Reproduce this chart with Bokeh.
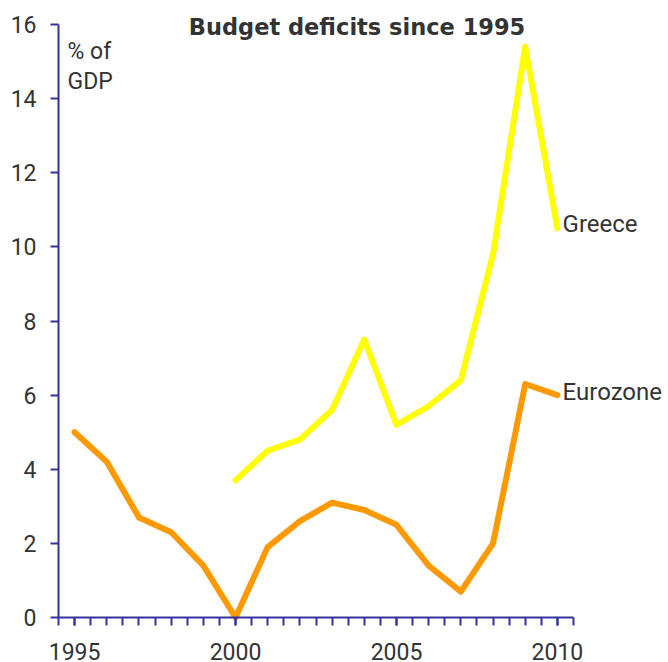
import numpy as np
from bokeh.plotting import figure
from bokeh.models import Range1d, LinearAxis, FixedTicker, ColumnDataSource
from bokeh.core.properties import value
from bokeh.embed import file_html
from bokeh.resources import INLINE

# ---- data ----
euro_years = [1995, 1996, 1997, 1998, 1999, 2000, 2001, 2002, 2003, 2004,
              2005, 2006, 2007, 2008, 2009, 2010]
eurozone = [5.0, 4.2, 2.7, 2.3, 1.4, 0.0, 1.9, 2.6, 3.1, 2.9,
            2.5, 1.4, 0.7, 2.0, 6.3, 6.0]
greece_years = [2000, 2001, 2002, 2003, 2004, 2005, 2006, 2007, 2008, 2009, 2010]
greece = [3.7, 4.5, 4.8, 5.6, 7.5, 5.2, 5.7, 6.4, 9.8, 15.4, 10.5]
x_tick_labels = [1995, 2000, 2005, 2010]
y_tick_values = [0, 2, 4, 6, 8, 10, 12, 14, 16]
series_names = ["Greece", "Eurozone"]
title_text = "Budget deficits since 1995"
unit_lines = ["% of", "GDP"]

AXIS_COLOR = "#333399"
TEXT_COLOR = "#333333"

p = figure(width=668, height=662,
           x_range=Range1d(1992.698, 2013.451),
           y_range=Range1d(-1.2142, 16.648),
           x_axis_type=None, y_axis_type=None,
           toolbar_location=None, output_backend="svg",
           min_border_left=0, min_border_right=0,
           min_border_top=0, min_border_bottom=0)
p.outline_line_color = None
p.background_fill_color = "white"
p.border_fill_color = "white"

minor = list(np.arange(1994.5, 2010.51, 0.5))
xaxis = LinearAxis(fixed_location=0, bounds=(1994.5, 2010.5),
                   ticker=FixedTicker(ticks=x_tick_labels, minor_ticks=minor))
yaxis = LinearAxis(fixed_location=1994.5, bounds=(0, 16),
                   ticker=FixedTicker(ticks=y_tick_values, minor_ticks=[]))
for ax in (xaxis, yaxis):
    ax.axis_line_color = AXIS_COLOR
    ax.axis_line_width = 2
    ax.major_tick_line_color = AXIS_COLOR
    ax.major_tick_line_width = 2
    ax.minor_tick_line_color = AXIS_COLOR
    ax.minor_tick_line_width = 2
    ax.major_tick_in = 0
    ax.major_tick_out = 8
    ax.minor_tick_in = 0
    ax.minor_tick_out = 8
    ax.major_label_text_font = "Roboto"
    ax.major_label_text_font_size = "23px"
    ax.major_label_text_color = TEXT_COLOR
xaxis.major_label_standoff = 18
yaxis.major_label_standoff = 14
p.add_layout(xaxis, "below")
p.add_layout(yaxis, "left")

euro_src = ColumnDataSource(dict(x=euro_years, y=eurozone))
gr_src = ColumnDataSource(dict(x=greece_years, y=greece))
p.line("x", "y", source=euro_src, line_color="#FF9900", line_width=6,
       line_join="round", line_cap="round")
p.line("x", "y", source=gr_src, line_color="#FFFF00", line_width=6,
       line_join="round", line_cap="round")

# series labels
p.text(x=[2010.16, 2010.16], y=[10.62, 6.085], text=series_names,
       text_font=value("Roboto"), text_font_size="24px",
       text_color=TEXT_COLOR, text_baseline="alphabetic", text_align="left")

# unit label
p.text(x=[1994.78, 1994.78], y=[15.28, 14.47], text=unit_lines,
       text_font=value("Roboto"), text_font_size="23px",
       text_color=TEXT_COLOR, text_baseline="alphabetic", text_align="left")

# title
p.text(x=[2003.774], y=[15.94], text=[title_text],
       text_font=value("DejaVu Sans"), text_font_style="bold",
       text_font_size="22.5px", text_color=TEXT_COLOR,
       text_baseline="alphabetic", text_align="center")

open("out.html", "w").write(file_html(p, INLINE))
